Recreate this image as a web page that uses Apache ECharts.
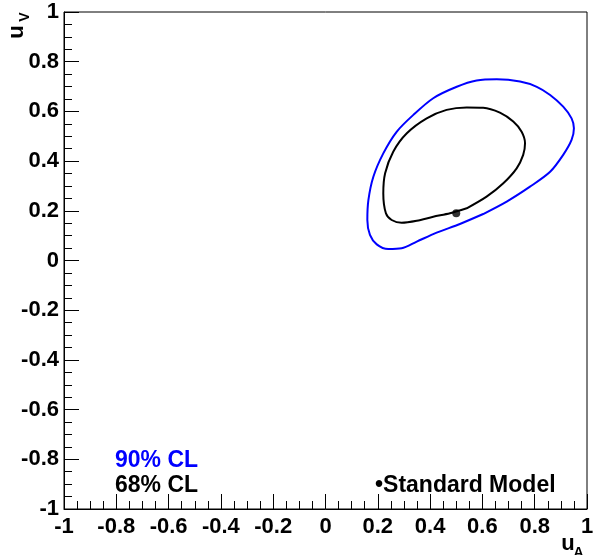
<!DOCTYPE html>
<html>
<head>
<meta charset="utf-8">
<script src="https://cdn.jsdelivr.net/npm/echarts@6/dist/echarts.min.js"></script>
<style>
html,body{margin:0;padding:0;background:#fff;}
#chart{width:600px;height:555px;}
</style>
</head>
<body>
<div id="chart"></div>
<script>
// 90% CL contour (u_A, u_V)
const cl90 = [
  [0.603, 0.187],[0.693, 0.237],[0.782, 0.297],[0.859, 0.357],[0.909, 0.425],
  [0.941, 0.485],[0.950, 0.532],[0.941, 0.572],[0.909, 0.619],[0.859, 0.666],
  [0.808, 0.699],[0.744, 0.720],[0.655, 0.729],[0.578, 0.724],[0.502, 0.699],
  [0.412, 0.653],[0.336, 0.586],[0.272, 0.518],[0.221, 0.431],[0.183, 0.337],
  [0.164, 0.243],[0.160, 0.163],[0.170, 0.103],[0.196, 0.065],[0.240, 0.046],
  [0.291, 0.049],[0.349, 0.076],[0.425, 0.112],[0.514, 0.147],[0.603, 0.187]
];
// 68% CL contour
const cl68 = [
  [0.540, 0.210],[0.616, 0.257],[0.680, 0.311],[0.731, 0.371],[0.756, 0.425],
  [0.763, 0.472],[0.750, 0.518],[0.718, 0.559],[0.667, 0.595],[0.603, 0.615],
  [0.540, 0.616],[0.463, 0.606],[0.387, 0.572],[0.311, 0.512],[0.259, 0.438],
  [0.228, 0.351],[0.221, 0.270],[0.231, 0.190],[0.253, 0.163],[0.291, 0.152],
  [0.349, 0.160],[0.412, 0.176],[0.476, 0.190],[0.540, 0.210]
];
// Standard Model point
const smPoint = [[0.50, 0.19]];
const legendLabels = ['90% CL', '68% CL', '\u2022Standard Model'];
const xAxisTitle = ['u', 'A'];
const yAxisTitle = ['u', 'V'];

const FONT = '"Liberation Sans", Arial, Helvetica, sans-serif';
const fmt = v => {
  const r = Math.round(v * 10) / 10;
  return (Object.is(r, -0) ? 0 : r).toString();
};
const axisCommon = {
  type: 'value', min: -1, max: 1, interval: 0.2,
  axisLine: { show: true, onZero: false, lineStyle: { color: '#000', width: 1 } },
  axisTick: { show: true, inside: true, length: 15, lineStyle: { color: '#000', width: 1 } },
  minorTick: { show: true, splitNumber: 4, length: 8, lineStyle: { color: '#000', width: 1 } },
  splitLine: { show: false },
  minorSplitLine: { show: false }
};

const chart = echarts.init(document.getElementById('chart'), null, { renderer: 'canvas' });
chart.setOption({
  animation: false,
  backgroundColor: '#fff',
  grid: { left: 64, right: 13, top: 12, bottom: 46, show: true, borderColor: '#000', borderWidth: 1, backgroundColor: 'transparent' },
  xAxis: Object.assign({}, axisCommon, {
    axisLabel: { margin: 7, fontFamily: FONT, fontWeight: 'bold', fontSize: 22, color: '#000', showMinLabel: true, showMaxLabel: true, formatter: fmt }
  }),
  yAxis: Object.assign({}, axisCommon, {
    axisLabel: { margin: 5, fontFamily: FONT, fontWeight: 'bold', fontSize: 22, color: '#000', showMinLabel: true, showMaxLabel: true, formatter: fmt }
  }),
  series: [
    { name: '90% CL', type: 'line', data: cl90, smooth: 0.3, showSymbol: false, symbol: 'none',
      lineStyle: { color: '#0000ff', width: 2 }, z: 3 },
    { name: '68% CL', type: 'line', data: cl68, smooth: 0.3, showSymbol: false, symbol: 'none',
      lineStyle: { color: '#000', width: 2 }, z: 4 },
    { name: 'Standard Model', type: 'scatter', data: smPoint, symbol: 'circle', symbolSize: 8,
      itemStyle: { color: '#000' }, z: 5 }
  ],
  graphic: [
    { type: 'text', x: 115, y: 461, style: { text: legendLabels[0], fill: '#0000ff', font: 'bold 23px ' + FONT, align: 'left', verticalAlign: 'middle' } },
    { type: 'text', x: 115, y: 486, style: { text: legendLabels[1], fill: '#000', font: 'bold 23px ' + FONT, align: 'left', verticalAlign: 'middle' } },
    { type: 'text', x: 375, y: 486, style: { text: legendLabels[2], fill: '#000', font: 'bold 23px ' + FONT, align: 'left', verticalAlign: 'middle' } },
    { type: 'text', x: 568, y: 544, style: { text: xAxisTitle[0], fill: '#000', font: 'bold 22px ' + FONT, align: 'center', verticalAlign: 'middle' } },
    { type: 'text', x: 578.5, y: 553, style: { text: xAxisTitle[1], fill: '#000', font: 'bold 14px ' + FONT, align: 'center', verticalAlign: 'middle' } },
    { type: 'text', x: 16.5, y: 32, rotation: Math.PI / 2, style: { text: yAxisTitle[0], fill: '#000', font: 'bold 22px ' + FONT, align: 'center', verticalAlign: 'middle' } },
    { type: 'text', x: 25.5, y: 17, rotation: Math.PI / 2, style: { text: yAxisTitle[1], fill: '#000', font: 'bold 14px ' + FONT, align: 'center', verticalAlign: 'middle' } }
  ]
});
</script>
</body>
</html>
